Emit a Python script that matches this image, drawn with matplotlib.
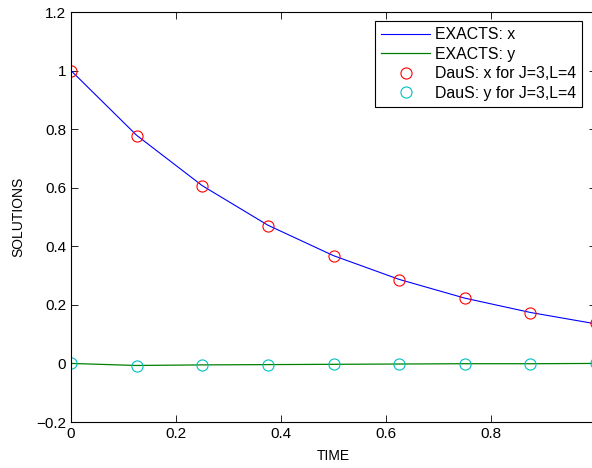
import numpy as np
import matplotlib.pyplot as plt

plt.rcParams['font.family'] = ['Liberation Sans', 'DejaVu Sans']

# time grid and solutions
t = [0, 0.125, 0.25, 0.375, 0.5, 0.625, 0.75, 0.875, 1.0]
exact_x = [1.0, 0.779, 0.607, 0.472, 0.368, 0.287, 0.223, 0.174, 0.135]
exact_y = [0.0, -0.007, -0.005, -0.004, -0.003, -0.002, -0.001, -0.001, 0.0]
daus_x = [0.997, 0.776, 0.605, 0.469, 0.367, 0.285, 0.223, 0.172, 0.137]
daus_y = [0.0, -0.008, -0.005, -0.004, -0.003, -0.002, -0.001, -0.001, 0.0]

fig = plt.figure(figsize=(5.92, 4.68), dpi=100)
ax = fig.add_axes([71/592, 46/468, 525/592, 410/468])

ax.plot(t, exact_x, color='b', lw=0.8, label='EXACTS: x')
ax.plot(t, exact_y, color=(0, 0.5, 0), lw=0.9, label='EXACTS: y')
ax.plot(t, daus_x, 'o', mfc='none', mec='r', ms=8, mew=0.8,
        label='DauS: x for J=3,L=4')
ax.plot(t, daus_y, 'o', mfc='none', mec=(0, 0.75, 0.75), ms=8, mew=0.8,
        label='DauS: y for J=3,L=4')

ax.set_xlim(0, 1)
ax.set_ylim(-0.2, 1.2)
ax.set_xticks([0, 0.2, 0.4, 0.6, 0.8, 1])
ax.set_xticklabels(['0', '0.2', '0.4', '0.6', '0.8', '1'])
ax.set_yticks([-0.2, 0, 0.2, 0.4, 0.6, 0.8, 1, 1.2])
ax.set_yticklabels(['\u22120.2', '0', '0.2', '0.4', '0.6', '0.8', '1', '1.2'])
ax.tick_params(direction='in', top=True, right=True, labelsize=11, length=5, width=0.6)
for s in ax.spines.values():
    s.set_linewidth(0.8)

ax.set_xlabel('TIME', fontsize=10, labelpad=6)
ax.set_ylabel('SOLUTIONS', fontsize=10, labelpad=8)

leg = ax.legend(loc='upper right', bbox_to_anchor=(0.974, 0.978), fontsize=11.4,
                handlelength=3.1, fancybox=False, framealpha=1, borderpad=0.4,
                labelspacing=0.28, borderaxespad=0, handletextpad=0.3)
leg.get_frame().set_edgecolor('k')
leg.get_frame().set_linewidth(0.8)

fig.savefig('out.png', dpi=100)
